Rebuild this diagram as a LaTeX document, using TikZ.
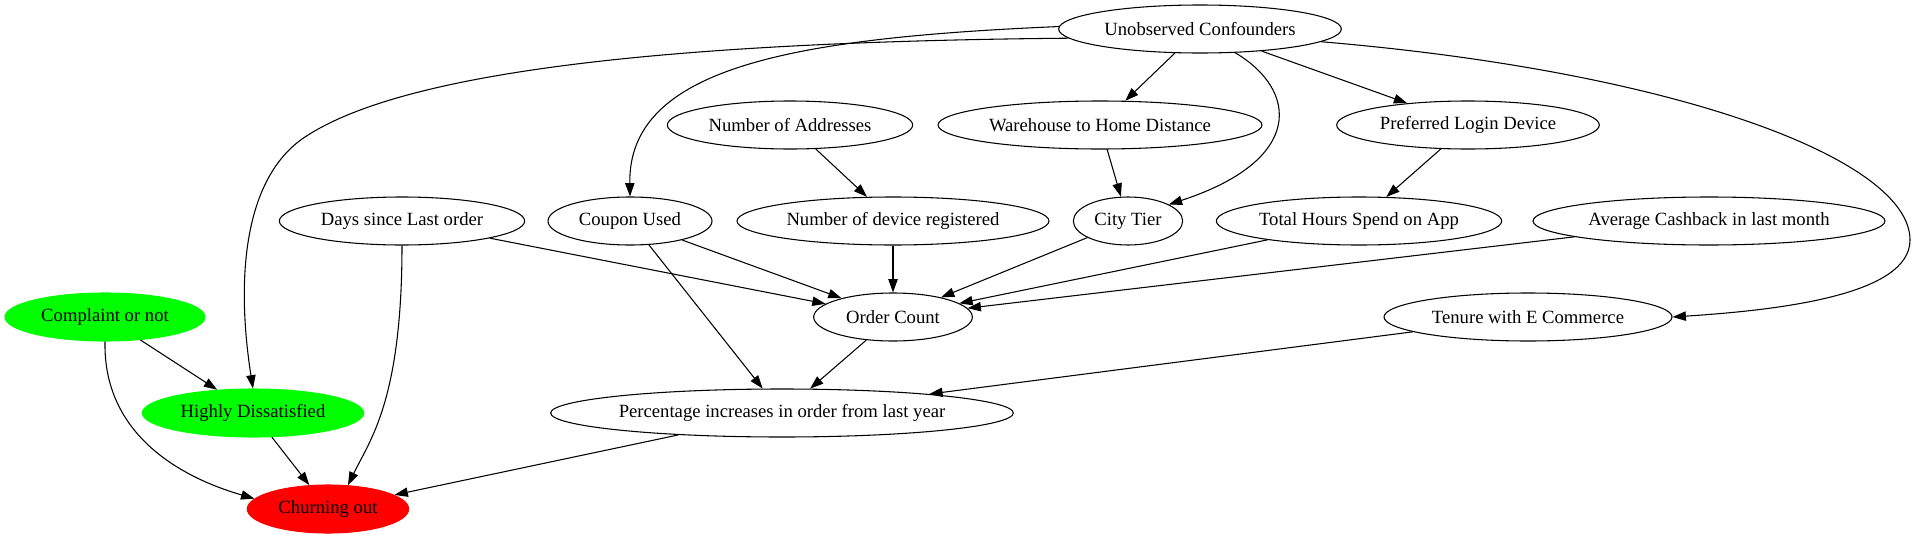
\documentclass[tikz,border=0pt]{standalone}
\usepackage{fontspec}
\setmainfont{Liberation Serif}
\usetikzlibrary{shapes.geometric,arrows.meta}
\definecolor{gvgreen}{HTML}{00FF00}
\definecolor{gvred}{HTML}{FF0000}
\begin{document}
\begin{tikzpicture}[x=0.75pt,y=-0.75pt,
  ov/.style={ellipse,draw,line width=0.8pt,inner sep=0pt,minimum height=36pt,
    font=\fontsize{14}{16}\selectfont},
  gnode/.style={ov,fill=gvgreen,draw=gvgreen},
  rnode/.style={ov,fill=gvred,draw=gvred},
  edge/.style={draw,line width=0.8pt,-{Triangle[length=10pt,width=7pt]}}]
\useasboundingbox[fill=white] (0,0) rectangle (1917,539);
\node[ov,minimum width=212pt] (u) at (1200,29) {Unobserved Confounders};
\node[ov,minimum width=184pt] (na) at (790,125) {Number of Addresses};
\node[ov,minimum width=243pt] (wh) at (1100,125) {Warehouse to Home Distance};
\node[ov,minimum width=197pt] (pl) at (1468,125) {Preferred Login Device};
\node[ov,minimum width=184pt] (d) at (402,221) {Days since Last order};
\node[ov,minimum width=123pt] (cu) at (630,221) {Coupon Used};
\node[ov,minimum width=234pt] (ndv) at (893,221) {Number of device registered};
\node[ov,minimum width=82pt] (ct) at (1128,221) {City Tier};
\node[ov,minimum width=214pt] (th) at (1359,221) {Total Hours Spend on App};
\node[ov,minimum width=264pt] (ac) at (1709,221) {Average Cashback in last month};
\node[gnode,minimum width=150pt] (c) at (105,317) {Complaint or not};
\node[ov,minimum width=119pt] (oc) at (893,317) {Order Count};
\node[ov,minimum width=216pt] (te) at (1528,317) {Tenure with E Commerce};
\node[gnode,minimum width=166pt] (hd) at (253,413) {Highly Dissatisfied};
\node[ov,minimum width=347pt] (pi) at (782,413) {Percentage increases in order from last year};
\node[rnode,minimum width=121pt] (ch) at (328,509) {Churning out};
% curved edges from Unobserved Confounders
\draw[edge] (u.179) .. controls (790,38) and (628,68) .. (cu.north);
\draw[edge] (u.184) .. controls (650,42) and (400,74) .. (305,137)
   .. controls (243,178) and (236,280) .. (hd.north);
\draw[edge] (u) -- (wh);
\draw[edge] (u.-34) .. controls (1298,90) and (1305,160) .. (ct.22);
\draw[edge] (u) -- (pl);
\draw[edge] (u.-6) .. controls (1680,72) and (1910,160) .. (1910,240)
   .. controls (1910,295) and (1780,310) .. (te.east);
% other edges
\draw[edge] (na) -- (ndv);
\draw[edge] (wh) -- (ct);
\draw[edge] (pl) -- (th);
\draw[edge] (d) -- (oc);
\draw[edge] (d.south) .. controls (402,400) and (370,440) .. (ch.50);
\draw[edge] (cu) -- (oc);
\draw[edge] (cu) -- (pi);
\draw[edge] (ndv) -- (oc);
\draw[edge] (ct) -- (oc);
\draw[edge] (th) -- (oc);
\draw[edge] (ac) -- (oc);
\draw[edge] (c) -- (hd);
\draw[edge] (c.south) .. controls (103,440) and (190,480) .. (ch.172);
\draw[edge] (hd) -- (ch);
\draw[edge] (oc) -- (pi);
\draw[edge] (te) -- (pi);
\draw[edge] (pi) -- (ch);
\end{tikzpicture}
\end{document}
